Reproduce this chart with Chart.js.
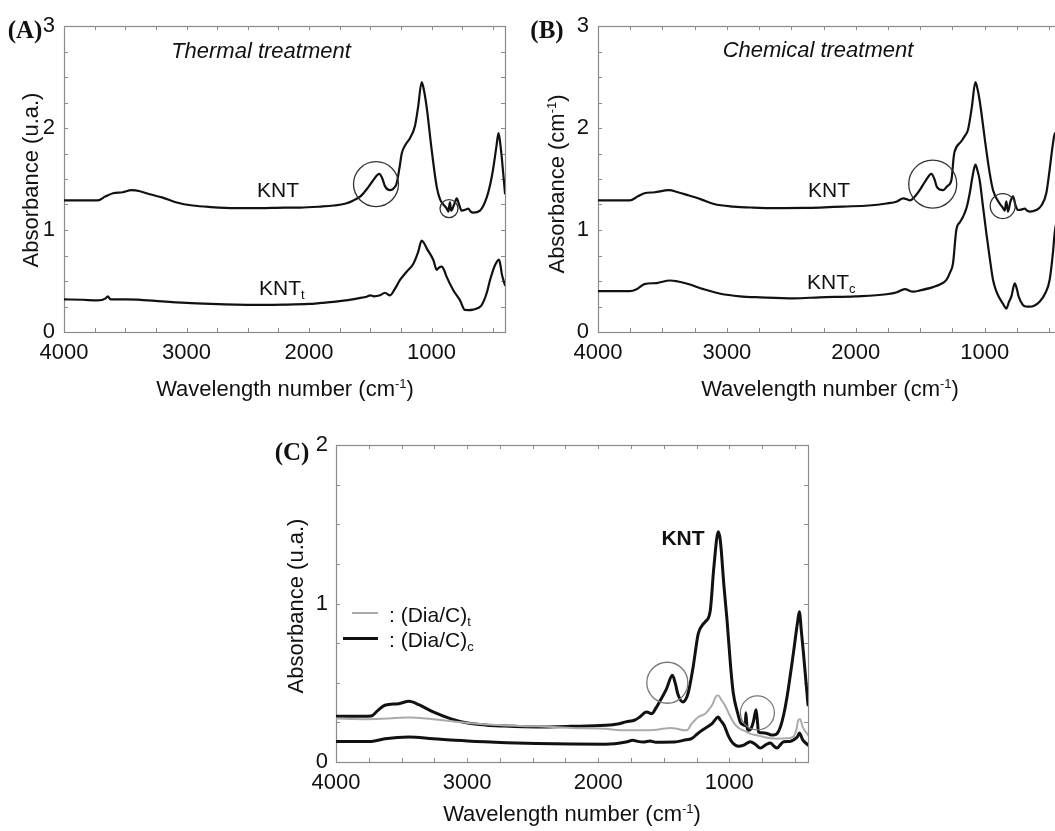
<!DOCTYPE html>
<html><head><meta charset="utf-8">
<script src="https://cdn.jsdelivr.net/npm/chart.js@4"></script>
<style>
html,body{margin:0;padding:0;overflow:hidden;background:#fff;}
body{width:1055px;height:831px;position:relative;font-family:"Liberation Sans",Arial,Helvetica,sans-serif;color:#111;}
canvas{position:absolute;}
.t{position:absolute;white-space:nowrap;font-size:22px;line-height:1;transform:translate(-50%,-50%);}
.l{position:absolute;white-space:nowrap;font-size:21px;line-height:1;transform:translate(0,-50%);}
.p{font-family:"Liberation Serif","Times New Roman",serif;font-weight:bold;font-size:25px;}
.r{transform:translate(-50%,-50%) rotate(-90deg);}
.i{font-style:italic;}
.k{font-size:21px;}
.b{font-weight:bold;font-size:21px;}
sub{font-size:13px;vertical-align:-4px;line-height:0;}
sup{font-size:13px;vertical-align:8px;line-height:0;}
.sw{position:absolute;height:0;}
</style></head>
<body>
<canvas id="cA" width="530" height="400" style="left:0;top:0"></canvas>
<canvas id="cB" width="560" height="400" style="left:525px;top:0"></canvas>
<canvas id="cC" width="570" height="431" style="left:260px;top:400px"></canvas>

<!-- Panel A texts -->
<div class="t p" style="left:25px;top:29px">(A)</div>
<div class="t i" style="left:261px;top:51px">Thermal treatment</div>
<div class="t k" style="left:278px;top:189px">KNT</div>
<div class="l" style="left:259px;top:287px">KNT<sub>t</sub></div>
<div class="t r" style="left:31px;top:180px">Absorbance (u.a.)</div>
<div class="t" style="left:285px;top:389px">Wavelength number (cm<sup>-1</sup>)</div>

<!-- Panel B texts -->
<div class="t p" style="left:547px;top:29px">(B)</div>
<div class="t i" style="left:818px;top:50px">Chemical treatment</div>
<div class="t k" style="left:829px;top:189px">KNT</div>
<div class="l" style="left:807px;top:281px">KNT<sub>c</sub></div>
<div class="t r" style="left:557px;top:184px">Absorbance (cm<sup>-1</sup>)</div>
<div class="t" style="left:830px;top:389px">Wavelength number (cm<sup>-1</sup>)</div>

<!-- Panel C texts -->
<div class="t p" style="left:292px;top:451px">(C)</div>
<div class="t b" style="left:683px;top:537px">KNT</div>
<div class="sw" style="left:352px;top:612px;width:26px;border-top:2px solid #aaa"></div>
<div class="sw" style="left:343px;top:637px;width:35px;border-top:3px solid #111"></div>
<div class="l" style="left:389px;top:614px">: (Dia/C)<sub>t</sub></div>
<div class="l" style="left:389px;top:639px">: (Dia/C)<sub>c</sub></div>
<div class="t r" style="left:296px;top:606px">Absorbance (u.a.)</div>
<div class="t" style="left:572px;top:814px">Wavelength number (cm<sup>-1</sup>)</div>

<script>
// ---------- tick labels ----------
const X_TICKS = [4000, 3000, 2000, 1000];
const Y_TICKS_AB = [0, 1, 2, 3];
const Y_TICKS_C = [0, 1, 2];

// ---------- Panel A: thermal treatment ----------
const A_KNT_WN = [4000,3800,3725,3660,3600,3520,3450,3380,3300,3200,3080,2950,2800,2600,2400,2200,2073,1900,1800,1700,1638,1580,1529,1480,1426,1400,1380,1339,1300,1284,1260,1243,1210,1176,1135,1110,1080,1060,1039,998,957,930,903,875,863,856,849,840,815,794,775,754,720,700,680,659,604,549,520,494,470,453,440,427,400];
const A_KNT    = [1.29,1.29,1.29,1.33,1.36,1.37,1.39,1.38,1.35,1.32,1.27,1.24,1.225,1.215,1.215,1.22,1.22,1.23,1.24,1.26,1.29,1.33,1.40,1.48,1.55,1.50,1.43,1.39,1.42,1.46,1.62,1.75,1.84,1.90,2.02,2.2,2.45,2.36,2.2,1.78,1.42,1.3,1.25,1.21,1.18,1.23,1.27,1.19,1.25,1.31,1.25,1.19,1.2,1.21,1.18,1.17,1.19,1.32,1.45,1.62,1.82,1.95,1.86,1.72,1.36];
const A_KNTT_WN = [4000,3850,3725,3660,3643,3620,3500,3400,3200,3000,2800,2600,2400,2200,2000,1900,1800,1700,1600,1529,1500,1470,1420,1380,1339,1300,1257,1203,1148,1110,1080,1060,1039,985,957,940,916,895,876,822,767,727,700,659,620,590,550,522,481,449,435,427,400];
const A_KNTT    = [0.32,0.316,0.31,0.33,0.35,0.32,0.32,0.318,0.30,0.285,0.275,0.268,0.266,0.268,0.275,0.285,0.295,0.31,0.33,0.346,0.36,0.35,0.36,0.385,0.36,0.42,0.51,0.59,0.67,0.78,0.895,0.87,0.82,0.706,0.61,0.63,0.64,0.6,0.54,0.41,0.31,0.216,0.215,0.22,0.235,0.265,0.38,0.51,0.657,0.71,0.64,0.575,0.46];

// ---------- Panel B: chemical treatment ----------
const B_KNT_WN = [4000,3800,3753,3690,3640,3560,3450,3380,3300,3200,3100,2950,2800,2600,2400,2279,2100,1900,1762,1680,1633,1600,1581,1540,1504,1460,1413,1390,1370,1323,1290,1258,1240,1233,1181,1150,1130,1100,1072,1055,1039,987,960,935,884,860,845,832,819,800,780,760,741,715,690,670,651,599,560,522,495,470,455,430,400];
const B_KNT    = [1.29,1.29,1.29,1.33,1.36,1.37,1.39,1.37,1.34,1.30,1.255,1.23,1.22,1.215,1.216,1.22,1.23,1.24,1.26,1.28,1.31,1.30,1.29,1.33,1.39,1.48,1.55,1.50,1.42,1.39,1.43,1.49,1.72,1.77,1.87,1.93,1.98,2.2,2.45,2.38,2.27,1.78,1.55,1.39,1.26,1.22,1.19,1.28,1.18,1.28,1.33,1.24,1.196,1.2,1.21,1.19,1.18,1.196,1.24,1.36,1.6,1.85,1.95,1.75,1.36];
const B_KNTC_WN = [4000,3800,3753,3700,3640,3545,3442,3380,3300,3182,3050,2900,2740,2481,2279,2000,1762,1680,1620,1556,1494,1401,1340,1297,1270,1246,1220,1190,1168,1140,1116,1095,1072,1055,1039,1010,987,960,935,910,884,855,832,810,793,767,750,736,703,680,651,620,574,530,496,470,457,440];
const B_KNTC    = [0.40,0.40,0.40,0.42,0.47,0.48,0.505,0.495,0.47,0.42,0.375,0.35,0.34,0.33,0.34,0.35,0.37,0.39,0.42,0.395,0.41,0.44,0.47,0.51,0.58,0.67,1.0,1.08,1.13,1.22,1.36,1.52,1.64,1.58,1.49,1.2,0.97,0.72,0.51,0.40,0.33,0.27,0.23,0.30,0.346,0.477,0.42,0.346,0.265,0.25,0.248,0.255,0.297,0.38,0.51,0.78,0.97,1.1];

// ---------- Panel C: comparison ----------
const C_KNT_WN = [4000,3800,3732,3680,3627,3522,3443,3364,3259,3128,2997,2850,2734,2471,2209,1946,1850,1788,1720,1683,1631,1591,1560,1526,1480,1434,1410,1394,1355,1315,1276,1237,1200,1184,1145,1118,1084,1069,1040,1018,990,970,940,916,895,878,874,865,852,835,815,796,785,778,750,712,680,664,635,611,585,560,511,480,466,450,435,400];
const C_KNT    = [0.288,0.288,0.29,0.326,0.358,0.368,0.383,0.36,0.316,0.274,0.246,0.232,0.227,0.221,0.225,0.232,0.24,0.253,0.265,0.284,0.316,0.305,0.34,0.389,0.46,0.547,0.49,0.432,0.379,0.432,0.60,0.81,0.87,0.884,0.958,1.23,1.453,1.40,1.1,0.90,0.6,0.435,0.32,0.25,0.235,0.23,0.31,0.22,0.20,0.21,0.26,0.33,0.25,0.19,0.185,0.18,0.17,0.17,0.18,0.22,0.3,0.41,0.69,0.88,0.948,0.82,0.69,0.36];
const C_DIAT_WN = [4000,3785,3600,3443,3259,2997,2734,2471,2209,1946,1832,1683,1552,1447,1400,1342,1323,1289,1237,1184,1132,1094,1084,1060,1040,992,960,921,893,843,800,737,687,632,560,511,490,473,460,440,400];
const C_DIAT    = [0.274,0.27,0.275,0.28,0.27,0.246,0.232,0.225,0.215,0.21,0.20,0.20,0.204,0.215,0.21,0.20,0.20,0.24,0.284,0.305,0.358,0.42,0.42,0.39,0.368,0.286,0.24,0.21,0.20,0.179,0.17,0.158,0.15,0.147,0.15,0.16,0.2,0.265,0.27,0.22,0.17];
const C_DIAC_WN = [4000,3800,3732,3627,3443,3259,2997,2700,2471,2200,1946,1788,1736,1700,1657,1605,1560,1421,1330,1289,1240,1208,1132,1084,1069,1040,1010,974,930,895,840,800,763,720,687,660,636,610,585,540,511,480,466,440,400];
const C_DIAC    = [0.13,0.13,0.13,0.147,0.158,0.147,0.133,0.122,0.116,0.113,0.112,0.126,0.137,0.13,0.126,0.133,0.125,0.126,0.14,0.147,0.18,0.20,0.242,0.284,0.265,0.232,0.17,0.12,0.1,0.105,0.128,0.11,0.088,0.11,0.12,0.1,0.088,0.11,0.128,0.13,0.139,0.16,0.183,0.14,0.107];

// highlighted bands (circle centres in data units: wavenumber, absorbance)
const A_CIRCLE_WN = [1453, 857];
const A_CIRCLE_Y  = [1.45, 1.21];
const B_CIRCLE_WN = [1403, 860];
const B_CIRCLE_Y  = [1.45, 1.235];
const C_CIRCLE_WN = [1473, 786];
const C_CIRCLE_Y  = [0.50, 0.31];

Chart.defaults.font.family = '"Liberation Sans", Arial, Helvetica, sans-serif';
Chart.defaults.color = '#111';

function framePlugin(yMax, circles){
  return {
    id: 'frame',
    beforeDatasetsDraw(chart){
      const c = chart.ctx, a = chart.chartArea, xs = chart.scales.x, ys = chart.scales.y;
      c.save();
      c.strokeStyle = '#8a8a8a'; c.lineWidth = 1.2;
      c.strokeRect(a.left + 0.5, a.top + 0.5, a.right - a.left, a.bottom - a.top);
      c.lineWidth = 1; c.strokeStyle = '#8a8a8a';
      c.beginPath();
      for (let w = 3750; w >= 400; w -= 250) {
        const px = Math.round(xs.getPixelForValue(w)) + 0.5;
        c.moveTo(px, a.bottom); c.lineTo(px, a.bottom - 4);
        c.moveTo(px, a.top); c.lineTo(px, a.top + 4);
      }
      for (let v = 0.25; v < yMax; v += 0.25) {
        const py = Math.round(ys.getPixelForValue(v)) + 0.5;
        c.moveTo(a.left, py); c.lineTo(a.left + 4, py);
        c.moveTo(a.right, py); c.lineTo(a.right - 4, py);
      }
      c.stroke();
      c.restore();
    },
    afterDatasetsDraw(chart){
      const c = chart.ctx, xs = chart.scales.x, ys = chart.scales.y;
      c.save();
      c.strokeStyle = circles.color; c.lineWidth = circles.lw;
      circles.wn.forEach((w, i) => {
        c.beginPath();
        c.arc(xs.getPixelForValue(w), ys.getPixelForValue(circles.y[i]), circles.r[i], 0, Math.PI * 2);
        c.stroke();
      });
      c.restore();
    }
  };
}

function makePanel(id, series, yMax, yTicks, lay, circles){
  return new Chart(document.getElementById(id), {
    type: 'line',
    data: { datasets: series.map(s => ({
      data: s.wn.map((w, i) => ({ x: w, y: s.v[i] })),
      borderColor: s.color, borderWidth: s.width, pointRadius: 0, fill: false,
      cubicInterpolationMode: 'monotone', borderJoinStyle: 'round', borderCapStyle: 'round'
    })) },
    options: {
      responsive: false, animation: false, devicePixelRatio: 1,
      layout: { padding: { top: lay.top, right: lay.right, left: 0, bottom: 0 } },
      plugins: { legend: { display: false }, tooltip: { enabled: false } },
      scales: {
        x: {
          type: 'linear', reverse: true, min: 400, max: 4000,
          afterBuildTicks: s => { s.ticks = X_TICKS.map(v => ({ value: v })); },
          afterFit: s => { s.height = lay.xH; },
          grid: { display: false, drawTicks: false, tickLength: 0 }, border: { display: false },
          ticks: { padding: lay.xPad, maxRotation: 0, autoSkip: false, font: { size: 22 }, color: '#111', callback: v => String(v) }
        },
        y: {
          type: 'linear', min: 0, max: yMax,
          afterBuildTicks: s => { s.ticks = yTicks.map(v => ({ value: v })); },
          afterFit: s => { s.width = lay.yW; },
          grid: { display: false, drawTicks: false, tickLength: 0 }, border: { display: false },
          ticks: { padding: lay.yPad, autoSkip: false, font: { size: 22 }, color: '#111', callback: v => String(v) }
        }
      }
    },
    plugins: [framePlugin(yMax, circles)]
  });
}

makePanel('cA', [
  { wn: A_KNT_WN, v: A_KNT, color: '#111', width: 2.2 },
  { wn: A_KNTT_WN, v: A_KNTT, color: '#111', width: 2.2 }
], 3, Y_TICKS_AB, { top: 26, right: 25, yW: 64, xH: 68, xPad: 8, yPad: 9 },
  { wn: A_CIRCLE_WN, y: A_CIRCLE_Y, r: [22.5, 9], color: '#333', lw: 1.3 });

makePanel('cB', [
  { wn: B_KNT_WN, v: B_KNT, color: '#111', width: 2.2 },
  { wn: B_KNTC_WN, v: B_KNTC, color: '#111', width: 2.2 }
], 3, Y_TICKS_AB, { top: 26, right: 23, yW: 73, xH: 68, xPad: 8, yPad: 9 },
  { wn: B_CIRCLE_WN, y: B_CIRCLE_Y, r: [24, 12.5], color: '#333', lw: 1.3 });

makePanel('cC', [
  { wn: C_DIAT_WN, v: C_DIAT, color: '#aaaaaa', width: 2 },
  { wn: C_DIAC_WN, v: C_DIAC, color: '#111', width: 3 },
  { wn: C_KNT_WN, v: C_KNT, color: '#111', width: 3 }
], 2, Y_TICKS_C, { top: 45, right: 22, yW: 76, xH: 69, xPad: 8, yPad: 8 },
  { wn: C_CIRCLE_WN, y: C_CIRCLE_Y, r: [20.5, 17], color: '#777', lw: 1.3 });
</script>
</body></html>
